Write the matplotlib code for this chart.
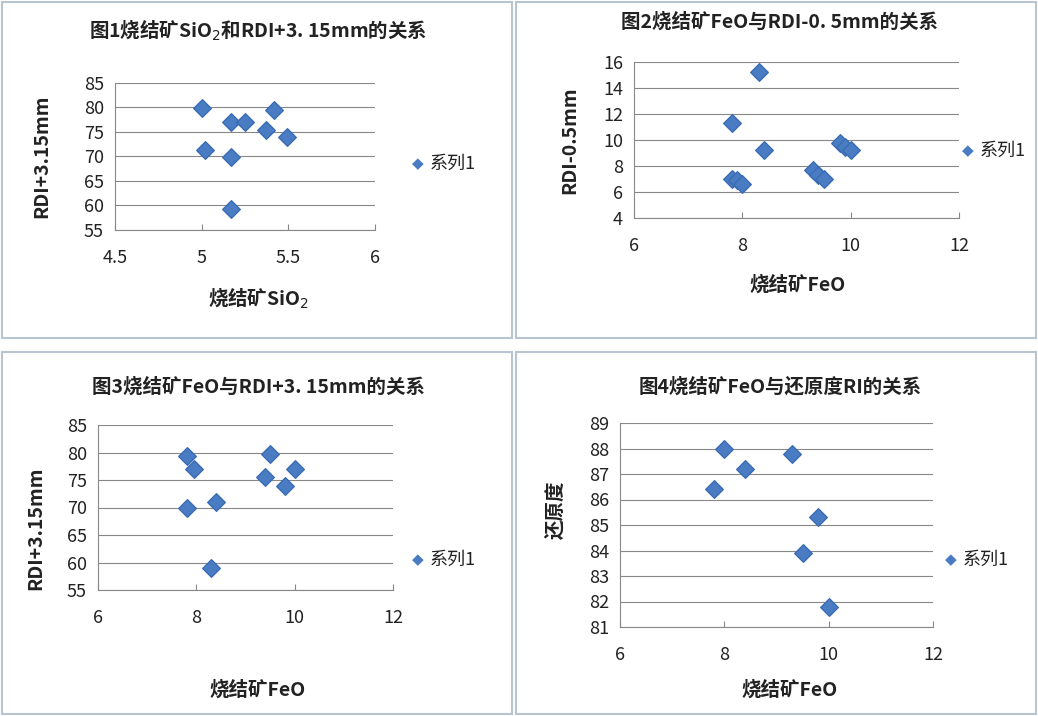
import matplotlib.pyplot as plt
from matplotlib.patches import Rectangle
from matplotlib.ticker import FormatStrFormatter

plt.rcParams['font.family'] = ['Noto Sans CJK SC', 'DejaVu Sans']

W, H = 1038, 716
BLUE = '#4a7cc4'
TXT = '#222222'

# chart 1: SiO2 vs RDI+3.15mm
sio2 = [5.0, 5.17, 5.25, 5.42, 5.37, 5.49, 5.02, 5.17, 5.17]
rdi315_a = [79.8, 77.0, 77.0, 79.5, 75.5, 74.0, 71.3, 69.8, 59.3]
# chart 2: FeO vs RDI-0.5mm
feo_b = [8.3, 7.8, 8.4, 7.8, 7.9, 8.0, 9.3, 9.4, 9.5, 9.8, 9.9, 10.0]
rdi05 = [15.2, 11.3, 9.2, 7.0, 6.9, 6.6, 7.7, 7.3, 7.0, 9.8, 9.5, 9.2]
# chart 3: FeO vs RDI+3.15mm
feo_c = [7.8, 7.95, 7.8, 8.4, 8.3, 9.4, 9.5, 9.8, 10.0]
rdi315_c = [79.4, 77.0, 70.0, 71.0, 59.0, 75.5, 79.8, 74.0, 77.0]
# chart 4: FeO vs RI
feo_d = [8.0, 8.4, 7.8, 9.3, 9.8, 9.5, 10.0]
ri = [88.0, 87.2, 86.4, 87.8, 85.3, 83.9, 81.8]

fig = plt.figure(figsize=(W / 100, H / 100), dpi=100)

def px_axes(x0, y0, x1, y1):
    return fig.add_axes([x0 / W, 1 - y1 / H, (x1 - x0) / W, (y1 - y0) / H])

# panel borders
for (x0, y0, x1, y1) in [(2, 2, 512, 338), (516, 2, 1036, 338), (2, 352, 512, 714), (516, 352, 1036, 714)]:
    fig.patches.append(Rectangle((x0 / W, 1 - y1 / H), (x1 - x0) / W, (y1 - y0) / H,
                                 transform=fig.transFigure, fill=False, ec='#b8c4d0', lw=1.5))

panels = [
    dict(box=(115, 83, 375, 230), x=sio2, y=rdi315_a, xlim=(4.5, 6), xt=[4.5, 5, 5.5, 6],
         ylim=(55, 85), yt=range(55, 86, 5), title='图1烧结矿SiO$_2$和RDI+3. 15mm的关系',
         tpos=(258, 30), xl='烧结矿SiO$_2$', xlpos=(258, 298), yl='RDI+3.15mm', ylpos=(42, 156),
         leg=(418, 164)),
    dict(box=(634, 62, 959, 218), x=feo_b, y=rdi05, xlim=(6, 12), xt=[6, 8, 10, 12],
         ylim=(4, 16), yt=range(4, 17, 2), title='图2烧结矿FeO与RDI-0. 5mm的关系',
         tpos=(780, 22), xl='烧结矿FeO', xlpos=(798, 285), yl='RDI-0.5mm', ylpos=(570, 140),
         leg=(968, 151)),
    dict(box=(98, 425, 393, 590), x=feo_c, y=rdi315_c, xlim=(6, 12), xt=[6, 8, 10, 12],
         ylim=(55, 85), yt=range(55, 86, 5), title='图3烧结矿FeO与RDI+3. 15mm的关系',
         tpos=(258, 387), xl='烧结矿FeO', xlpos=(258, 690), yl='RDI+3.15mm', ylpos=(36, 528),
         leg=(418, 560)),
    dict(box=(620, 423, 933, 627), x=feo_d, y=ri, xlim=(6, 12), xt=[6, 8, 10, 12],
         ylim=(81, 89), yt=range(81, 90), title='图4烧结矿FeO与还原度RI的关系',
         tpos=(780, 387), xl='烧结矿FeO', xlpos=(790, 690), yl='还原度', ylpos=(556, 510),
         leg=(951, 560)),
]

for p in panels:
    ax = px_axes(*p['box'])
    ax.scatter(p['x'], p['y'], marker='D', s=80, color=BLUE, edgecolor='#3a6cb4', zorder=3)
    ax.set_xlim(*p['xlim'])
    ax.set_ylim(*p['ylim'])
    ax.set_xticks(p['xt'])
    ax.set_yticks(list(p['yt']))
    ax.xaxis.set_major_formatter(FormatStrFormatter('%g'))
    ax.grid(axis='y', color='#888888', lw=0.8)
    ax.set_axisbelow(True)
    for s in ['top', 'right']:
        ax.spines[s].set_visible(False)
    for s in ['left', 'bottom']:
        ax.spines[s].set_color('#888888')
    ax.tick_params(labelsize=13, colors=TXT, length=0, pad=8)
    ax.tick_params(axis='x', pad=14, length=4, direction='in', color='#888888')
    fig.text(p['tpos'][0] / W, 1 - p['tpos'][1] / H, p['title'], ha='center', va='center',
             fontsize=14, fontweight='bold', color=TXT)
    fig.text(p['xlpos'][0] / W, 1 - p['xlpos'][1] / H, p['xl'], ha='center', va='center',
             fontsize=14, fontweight='bold', color=TXT)
    fig.text(p['ylpos'][0] / W, 1 - p['ylpos'][1] / H, p['yl'], ha='center', va='center',
             fontsize=14, fontweight='bold', color=TXT, rotation=90)
    lx, ly = p['leg']
    fig.text(lx / W, 1 - ly / H, '◆', ha='center', va='center', fontsize=11, color=BLUE,
             family=['DejaVu Sans'])
    fig.text((lx + 12) / W, 1 - ly / H, '系列1', ha='left', va='center', fontsize=13, color=TXT)

fig.savefig('out.png', dpi=100)
